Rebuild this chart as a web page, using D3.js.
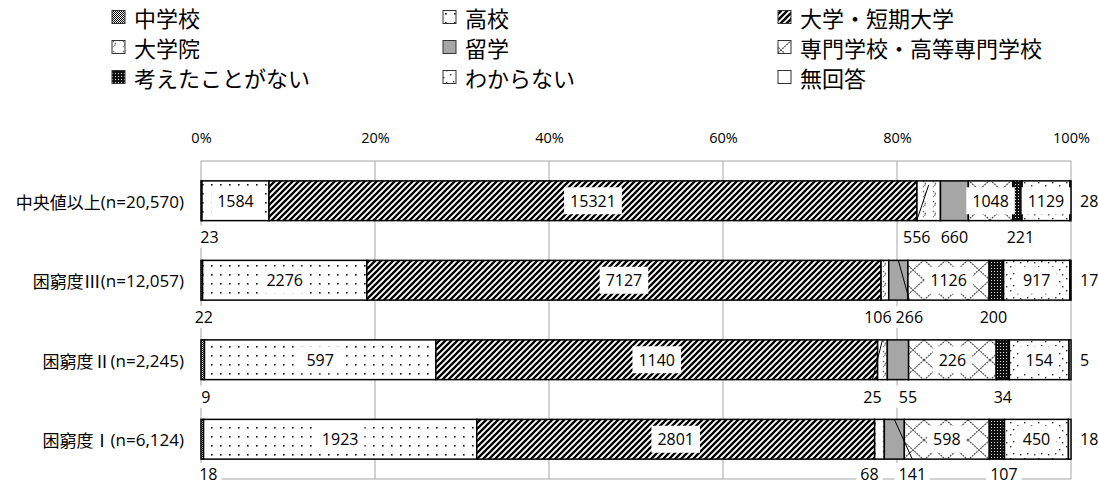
<!DOCTYPE html>
<html><head><meta charset="utf-8">
<script src="https://cdn.jsdelivr.net/npm/d3@7"></script>
<style>
html,body{margin:0;padding:0;background:#fff;}
svg{display:block;}
text{font-family:"Open Sans","Noto Sans CJK JP",sans-serif;fill:#000;}
</style></head>
<body>
<svg id="chart" width="1098" height="482"></svg>
<script>
// ---- data ----
const categories = ["中央値以上(n=20,570)", "困窮度Ⅲ(n=12,057)", "困窮度Ⅱ(n=2,245)", "困窮度Ⅰ(n=6,124)"];
const seriesNames = ["中学校", "高校", "大学・短期大学", "大学院", "留学", "専門学校・高等専門学校", "考えたことがない", "わからない", "無回答"];
const chugakko  = [23, 22, 9, 18];
const koko      = [1584, 2276, 597, 1923];
const daigaku   = [15321, 7127, 1140, 2801];
const daigakuin = [556, 106, 25, 68];
const ryugaku   = [660, 266, 55, 141];
const senmon    = [1048, 1126, 226, 598];
const kangaeta  = [221, 200, 34, 107];
const wakaranai = [1129, 917, 154, 450];
const mukaito   = [28, 17, 5, 18];
const xTickValues = [0, 0.2, 0.4, 0.6, 0.8, 1];

const seriesValues = [chugakko, koko, daigaku, daigakuin, ryugaku, senmon, kangaeta, wakaranai, mukaito];

// ---- layout / style config ----
const plot = {left: 201, right: 1071, top: 161, bottom: 479};
const patternIds = ["pChu", "pKoko", "pUniv", "pGrad", "pRyu", "pSen", "pKang", "pWaka", "pMu"];
const labelMode = ["below", "inside", "inside", "below", "below", "inside", "below", "inside", "right"];
const belowDx = {0: [8, 2, 3, 6], 3: [-12, -7, -10, -10], 4: [0, 11, 10, 18], 6: [3, -3, 0, 7]};
const belowDyByRow = [16, 17, 17, 15];
const leaders = {"0-3": true, "1-4": true, "2-3": true, "3-4": true};

const svg = d3.select("#chart");
const defs = svg.append("defs");

function pat(id, w, h, draw) {
  const p = defs.append("pattern").attr("id", id).attr("patternUnits", "userSpaceOnUse")
    .attr("width", w).attr("height", h);
  draw(p);
}
pat("pChu", 2, 2, p => {
  p.append("rect").attr("width", 2).attr("height", 2).attr("fill", "#fff");
  p.append("rect").attr("width", 1).attr("height", 1).attr("fill", "#000");
  p.append("rect").attr("x", 1).attr("y", 1).attr("width", 1).attr("height", 1).attr("fill", "#000");
});
pat("pKoko", 9, 9, p => {
  p.append("rect").attr("width", 9).attr("height", 9).attr("fill", "#fff");
  p.append("rect").attr("x", 4).attr("y", 4).attr("width", 1.6).attr("height", 1.6).attr("fill", "#111");
});
pat("pUniv", 6, 6, p => {
  p.append("rect").attr("width", 6).attr("height", 6).attr("fill", "#fff");
  p.append("path").attr("d", "M-1.5,1.5 l3,-3 M0,6 l6,-6 M4.5,7.5 l3,-3")
    .attr("stroke", "#000").attr("stroke-width", 2.3);
});
pat("pGrad", 10, 10, p => {
  p.append("rect").attr("width", 10).attr("height", 10).attr("fill", "#fff");
  p.append("path").attr("d", "M3,1 l3,3 l-3,3").attr("fill", "none")
    .attr("stroke", "#666").attr("stroke-width", 1.2).attr("stroke-dasharray", "1.5,1");
});
pat("pRyu", 4, 4, p => {
  p.append("rect").attr("width", 4).attr("height", 4).attr("fill", "#a6a6a6");
});
pat("pSen", 22, 20, p => {
  p.append("rect").attr("width", 22).attr("height", 20).attr("fill", "#fff");
  p.append("path").attr("d", "M0,0 L22,20 M22,0 L0,20").attr("stroke", "#555").attr("stroke-width", 1.2)
    .attr("stroke-dasharray", "2,0.8");
});
pat("pKang", 3, 3, p => {
  p.append("rect").attr("width", 3).attr("height", 3).attr("fill", "#111");
  p.append("rect").attr("x", 1).attr("y", 1).attr("width", 1).attr("height", 1).attr("fill", "#ddd");
});
pat("pWaka", 14, 12, p => {
  p.append("rect").attr("width", 14).attr("height", 12).attr("fill", "#fff");
  [[2, 2], [9, 5], [5, 9], [12, 10]].forEach(([x, y]) =>
    p.append("rect").attr("x", x).attr("y", y).attr("width", 1.4).attr("height", 1.4).attr("fill", "#333"));
});
pat("pMu", 4, 4, p => {
  p.append("rect").attr("width", 4).attr("height", 4).attr("fill", "#fff");
});

// ---- data table for stack ----
const table = categories.map((c, i) => {
  const row = {category: c};
  seriesNames.forEach((s, j) => row[s] = seriesValues[j][i]);
  return row;
});
const stacked = d3.stack().keys(seriesNames).offset(d3.stackOffsetExpand)(table);

const x = d3.scaleLinear().domain([0, 1]).range([plot.left, plot.right]);
const y = d3.scaleBand().domain(categories).range([plot.top, plot.bottom]).paddingInner(0.5).paddingOuter(0.25);

// gridlines & frame
svg.append("g").selectAll("line").data(xTickValues.slice(1, -1)).join("line")
  .attr("x1", d => x(d)).attr("x2", d => x(d)).attr("y1", plot.top).attr("y2", plot.bottom)
  .attr("stroke", "#a6a6a6").attr("stroke-width", 1);
svg.append("rect").attr("x", plot.left).attr("y", plot.top)
  .attr("width", plot.right - plot.left).attr("height", plot.bottom - plot.top)
  .attr("fill", "none").attr("stroke", "#a6a6a6").attr("stroke-width", 1);

// top axis
const axis = d3.axisTop(x).tickValues(xTickValues).tickFormat(d3.format(".0%")).tickSize(0).tickPadding(18);
const ax = svg.append("g").attr("transform", `translate(0,${plot.top})`).call(axis);
ax.select(".domain").remove();
ax.selectAll("text").style("font-size", "14.5px").style("font-family", '"Open Sans",sans-serif').attr("fill", "#000");

// category labels
const catText = svg.append("g").selectAll("text").data(categories).join("text")
  .attr("x", 184).attr("y", d => y(d) + y.bandwidth() / 2)
  .attr("text-anchor", "end").attr("dominant-baseline", "central")
  .style("font-size", "17px");
catText.append("tspan").style("font-family", '"Noto Sans CJK JP",sans-serif').text(d => d.slice(0, d.indexOf("(")));
catText.append("tspan").style("font-family", '"Open Sans",sans-serif').text(d => d.slice(d.indexOf("(")));

// bars
const barG = svg.append("g");
stacked.forEach((layer, j) => {
  barG.append("g").selectAll("rect").data(layer).join("rect")
    .attr("x", d => x(d[0])).attr("width", d => Math.max(0, x(d[1]) - x(d[0])))
    .attr("y", d => y(d.data.category)).attr("height", y.bandwidth())
    .attr("fill", `url(#${patternIds[j]})`)
    .attr("stroke", "#000").attr("stroke-width", 1.5);
});

// labels
const labG = svg.append("g");
stacked.forEach((layer, j) => {
  layer.forEach((d, i) => {
    const value = seriesValues[j][i];
    const x0 = x(d[0]), x1 = x(d[1]);
    const yTop = y(d.data.category), yBot = yTop + y.bandwidth(), yMid = yTop + y.bandwidth() / 2;
    let lx, ly, anchor = "middle";
    const mode = labelMode[j];
    if (mode === "inside") { lx = (x0 + x1) / 2; ly = yMid; }
    else if (mode === "right") { lx = x1 + 9; ly = yMid; anchor = "start"; }
    else {
      lx = (x0 + x1) / 2 + belowDx[j][i];
      ly = yBot + belowDyByRow[i];
      if (leaders[`${i}-${j}`]) {
        const up = (j === 3 && i === 0);
        labG.append("line")
          .attr("x1", up ? lx : (x0 + x1) / 2).attr("y1", up ? yBot : yTop)
          .attr("x2", up ? (x0 + x1) / 2 : lx).attr("y2", up ? yTop + 4 : yBot)
          .attr("stroke", "#000").attr("stroke-width", 1);
      }
    }
    const g = labG.append("g");
    const rect = g.append("rect").attr("fill", "#fff");
    const t = g.append("text").attr("x", lx).attr("y", ly).attr("text-anchor", anchor)
      .attr("dominant-baseline", "central").style("font-size", "16px").text(value);
    if (mode !== "right") {
      const bb = t.node().getBBox();
      const px = mode === "inside" ? 6 : 4;
      const bh = mode === "inside" ? 27 : 22;
      rect.attr("x", bb.x - px).attr("y", ly - bh / 2)
        .attr("width", bb.width + 2 * px).attr("height", bh);
    }
  });
});

// legend
const legCols = [134, 465, 800];
const legRows = [17, 47, 77];
const leg = svg.append("g");
seriesNames.forEach((s, j) => {
  const cx = legCols[j % 3], cy = legRows[Math.floor(j / 3)];
  leg.append("rect").attr("x", cx - 22).attr("y", cy - 6.5).attr("width", 13).attr("height", 13)
    .attr("fill", `url(#${patternIds[j]})`).attr("stroke", "#333").attr("stroke-width", 1);
  leg.append("text").attr("x", cx).attr("y", cy).attr("dominant-baseline", "central")
    .style("font-size", "22px").style("font-family", '"Noto Sans CJK JP",sans-serif').text(s);
});
</script>
</body></html>
